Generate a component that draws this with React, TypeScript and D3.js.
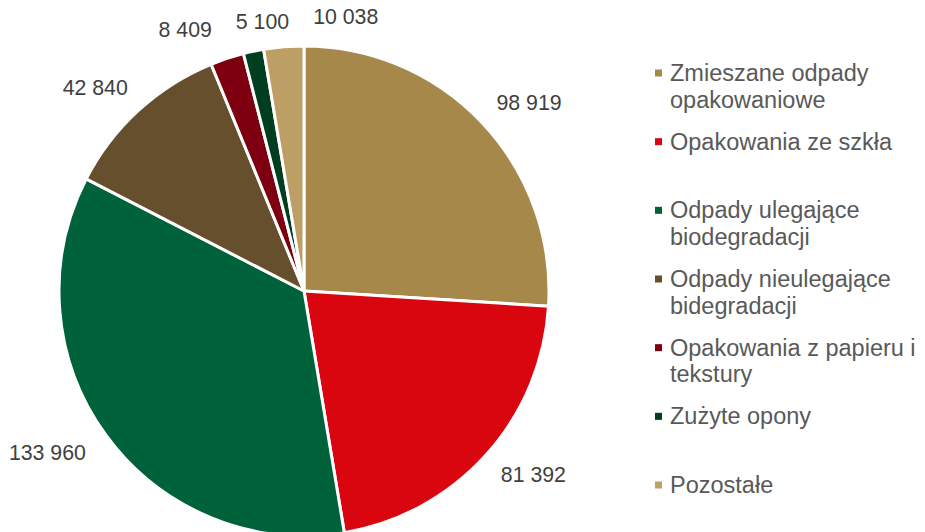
import React from "react";
import * as d3 from "d3";

const categories = [
  "Zmieszane odpady opakowaniowe",
  "Opakowania ze szkła",
  "Odpady ulegające biodegradacji",
  "Odpady nieulegające bidegradacji",
  "Opakowania z papieru i tekstury",
  "Zużyte opony",
  "Pozostałe",
];
const legendLines = [
  ["Zmieszane odpady", "opakowaniowe"],
  ["Opakowania ze szkła"],
  ["Odpady ulegające", "biodegradacji"],
  ["Odpady nieulegające", "bidegradacji"],
  ["Opakowania z papieru i", "tekstury"],
  ["Zużyte opony"],
  ["Pozostałe"],
];
const values = [98919, 81392, 133960, 42840, 8409, 5100, 10038];
const colors = ["#A6894A", "#D9060F", "#00623A", "#654F2C", "#7E0010", "#013D1F", "#BD9F66"];

const W = 925;
const H = 532;
const CX = 304;
const CY = 291;
const R = 245;
const LABEL_FONT = 21.3;
const LEGEND_FONT = 23.5;
const FONT = "'Liberation Sans', Arial, sans-serif";

function fmt(v: number) {
  return d3.format(",")(v).replace(/,/g, " ");
}

function measure(text: string, size: number) {
  const c = document.createElement("canvas").getContext("2d");
  if (!c) return text.length * size * 0.55;
  c.font = `${size}px ${FONT}`;
  return c.measureText(text).width;
}

export default function App() {
  const pie = d3.pie<number>().sort(null).value((d) => d)(values);
  const arc = d3.arc<d3.PieArcDatum<number>>().innerRadius(0).outerRadius(R);

  const labels = pie.map((p, i) => {
    const a = (p.startAngle + p.endAngle) / 2;
    const s = Math.sin(a);
    const c = -Math.cos(a);
    const text = fmt(values[i]);
    const w = measure(text, LABEL_FONT);
    const h = LABEL_FONT;
    const d = R + 15;
    return { text, w, x: CX + d * s + 0.75 * w * s, y: CY + d * c + (h / 2) * c * 1.4, top: c < -0.9 };
  });

  // spread labels near the top so they do not overlap
  const top = labels.filter((l) => l.top).sort((a, b) => a.x - b.x);
  if (top.length > 1) {
    const mean = d3.mean(top, (l) => l.x) as number;
    for (let it = 0; it < 200; it++) {
      for (let k = 0; k < top.length - 1; k++) {
        const A = top[k];
        const B = top[k + 1];
        const need = (A.w + B.w) / 2 + 24;
        const gap = B.x - A.x;
        if (gap < need) {
          const push = (need - gap) / 2;
          A.x -= push;
          B.x += push;
        }
      }
    }
    const m2 = d3.mean(top, (l) => l.x) as number;
    top.forEach((l) => (l.x += mean - m2 + 21));
  }

  const legendY = d3.scaleLinear().domain([0, categories.length - 1]).range([73, 485]);

  return (
    <svg width={W} height={H} style={{ position: "absolute", left: 0, top: 0, background: "#fff" }} fontFamily={FONT}>
      <g transform={`translate(${CX},${CY})`}>
        {pie.map((p, i) => (
          <path key={i} d={arc(p) as string} fill={colors[i]} stroke="#fff" strokeWidth={3} strokeLinejoin="round" />
        ))}
      </g>
      {labels.map((l, i) => (
        <text key={i} x={l.x} y={l.y} textAnchor="middle" dominantBaseline="central" fontSize={LABEL_FONT} fill="#404040">
          {l.text}
        </text>
      ))}
      {categories.map((c, i) => {
        const y = legendY(i);
        return (
          <g key={c}>
            <rect x={655} y={y - 3.5} width={7} height={7} fill={colors[i]} />
            {legendLines[i].map((line, j) => (
              <text key={j} x={670} y={y + j * 26.5} dominantBaseline="central" fontSize={LEGEND_FONT} fill="#595959">
                {line}
              </text>
            ))}
          </g>
        );
      })}
    </svg>
  );
}
